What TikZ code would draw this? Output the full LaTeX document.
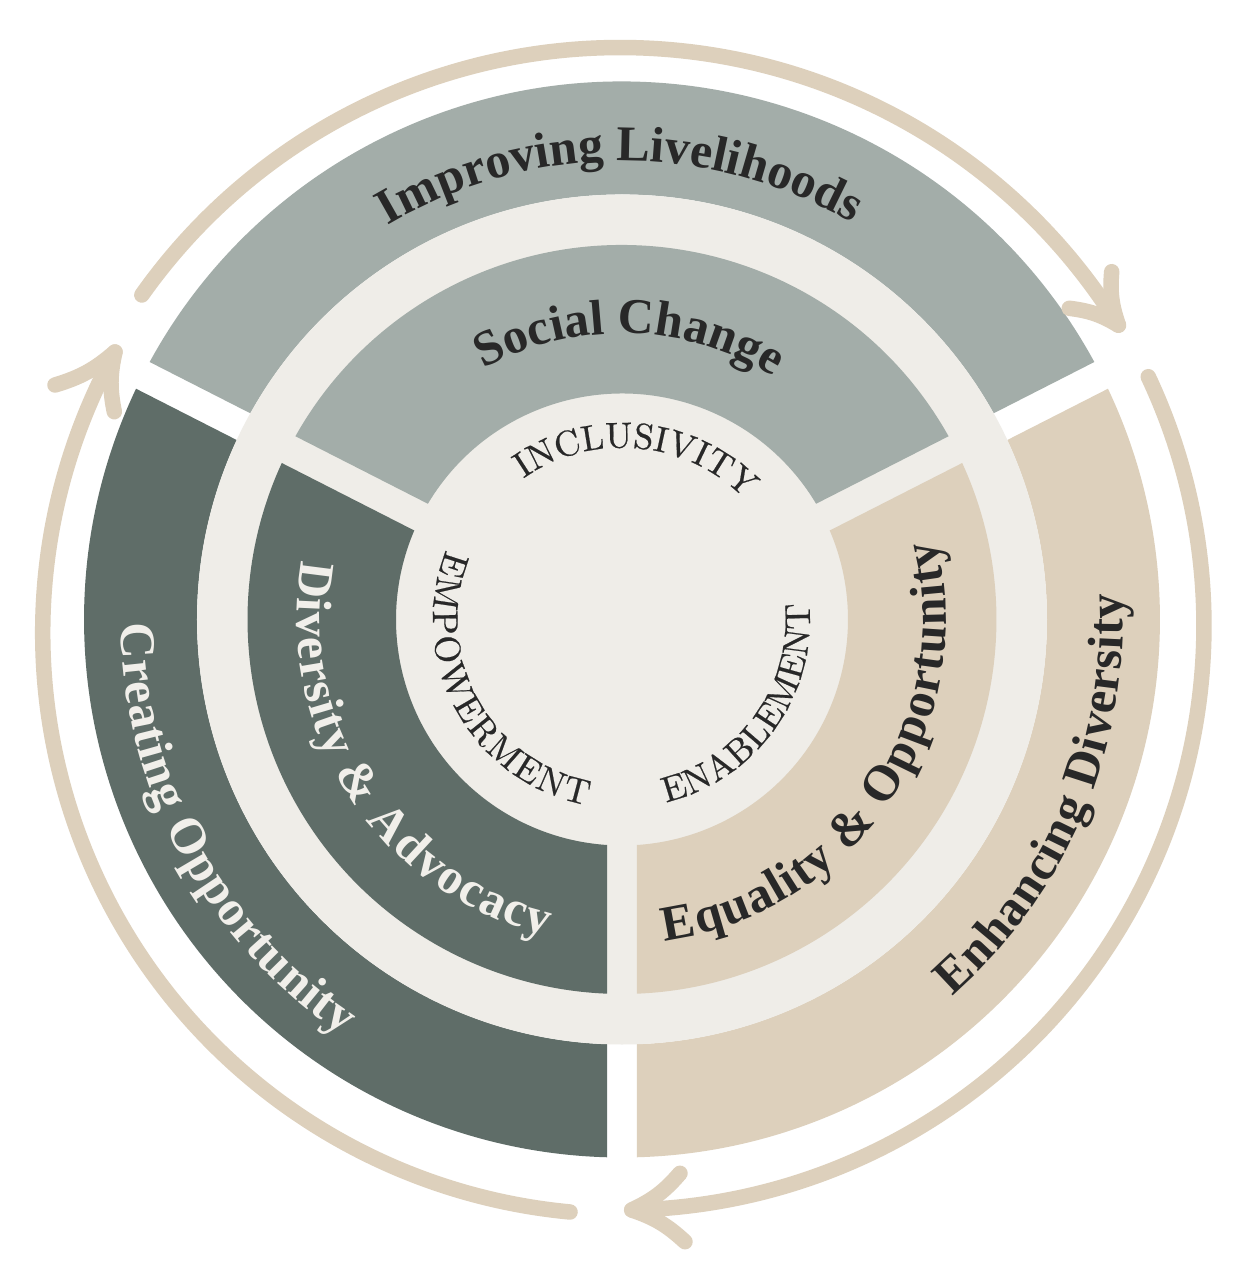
\documentclass[tikz,border=0pt]{standalone}
\usepackage{fontspec}
\newfontfamily\headfam{Liberation Serif}
\newfontfamily\corefam{lmroman10-regular}[Extension=.otf, FakeBold=0.5]
\usetikzlibrary{decorations.text,calc}
\definecolor{sagegray}{HTML}{A3ADA9}
\definecolor{slate}{HTML}{5F6D68}
\definecolor{sand}{HTML}{DDD0BC}
\definecolor{paper}{HTML}{EFEDE8}
\definecolor{ink}{HTML}{282828}
\definecolor{lighttext}{HTML}{F1EFEA}
\newcommand{\headfont}{\headfam\bfseries\fontsize{50}{60}\selectfont}
\newcommand{\corefont}{\corefam\fontsize{36}{40}\selectfont}
% annular sector with a 30pt wide straight gap on both sides
\newcommand{\ringsector}[5]{%
  \pgfmathsetmacro\sdo{asin(15/#4)}%
  \pgfmathsetmacro\sdi{asin(15/#5)}%
  \fill[#1] ({#2+\sdo}:#4) arc[start angle={#2+\sdo}, end angle={#3-\sdo}, radius=#4]
    -- ({#3-\sdi}:#5) arc[start angle={#3-\sdi}, end angle={#2+\sdi}, radius=#5] -- cycle;}
\tikzset{
  topband/.style={fill=sagegray},
  leftband/.style={fill=slate},
  rightband/.style={fill=sand},
  curvelabel/.style={decorate, decoration={text along path, text align=center, text color=#1}},
  corelabel/.style={decorate, decoration={text along path, text align=fit to path, text color=ink}},
  cyclearrow/.style={draw=sand, line width=15.5pt, line cap=round, line join=round},
}
\begin{document}
\begin{tikzpicture}[x=1pt,y=1pt]
\useasboundingbox (-622,-668.5) rectangle (622,619.5);
\fill[white] (-622,-668.5) rectangle (622,619.5);

% outer ring
\ringsector{topband}{27}{153}{538}{425}
\ringsector{leftband}{153}{270}{538}{425}
\ringsector{rightband}{270}{387}{538}{425}
% light disc
\fill[paper] (0,0) circle[radius=425];
% inner ring
\ringsector{topband}{27}{153}{374.5}{226}
\ringsector{leftband}{153}{270}{374.5}{226}
\ringsector{rightband}{270}{387}{374.5}{226}

% outer labels
\path[curvelabel=ink, decoration={text={|\headfont|Improving Livelihoods}}]
  (140.25:458.5) arc[start angle=140.25, end angle=40.25, radius=458.5];
\path[curvelabel=lighttext, decoration={raise=-17pt, text={|\headfont|Creating Opportunity}}]
  (168.3:484) arc[start angle=168.3, end angle=248.3, radius=484];
\path[curvelabel=ink, decoration={raise=-17pt, text={|\headfont|Enhancing Diversity}}]
  (297.1:484) arc[start angle=297.1, end angle=377.1, radius=484];

% inner labels
\path[curvelabel=ink, decoration={text={|\headfont|Social Change}}]
  (148.5:286) arc[start angle=148.5, end angle=28.5, radius=286];
\path[curvelabel=lighttext, decoration={raise=-17pt, text={|\headfont|Diversity {\&} Advocacy}}]
  (153:308) arc[start angle=153, end angle=273, radius=308];
\path[curvelabel=ink, decoration={raise=-17pt, text={|\headfont|Equality {\&} Opportunity}}]
  (265.9:307) arc[start angle=265.9, end angle=385.9, radius=307];

% core labels
\path[corelabel, decoration={text={|\corefont|INCLUSIVITY}}]
  (125:172) arc[start angle=125, end angle=45.7, radius=172];
\path[corelabel, decoration={text={|\corefont|EMPOWERMENT}}]
  (158.4:189) arc[start angle=158.4, end angle=259.2, radius=189];
\path[corelabel, decoration={text={|\corefont|ENABLEMENT}}]
  (283.5:188) arc[start angle=283.5, end angle=364.9, radius=188];

% cycle arrows
\coordinate (tatail) at ($(-1.85,-14)+(144.71:586)$);
\coordinate (tab1) at (489.7,347.8);
\coordinate (tab2) at (447.3,311.2);
\draw[cyclearrow] (tatail) arc[start angle=144.71, end angle=31.74, radius=586] coordinate (tatip);
\draw[cyclearrow] (tab1) to[bend right=12] (tatip) to[bend right=12] (tab2);

\coordinate (ratail) at ($(-2.41,-6.21)+(25.22:584.4)$);
\coordinate (rab1) at (58,-553.8);
\coordinate (rab2) at (63,-622.2);
\draw[cyclearrow] (ratail) arc[start angle=25.22, end angle=-88.81, radius=584.4] coordinate (ratip);
\draw[cyclearrow] (rab1) to[bend left=12] (ratip) to[bend left=12] (rab2);

\coordinate (latail) at ($(2.38,-13.36)+(264.64:581.7)$);
\coordinate (lab1) at (-567,234.5);
\coordinate (lab2) at (-507.7,207.8);
\draw[cyclearrow] (latail) arc[start angle=264.64, end angle=151.13, radius=581.7] coordinate (latip);
\draw[cyclearrow] (lab1) to[bend right=12] (latip) to[bend right=12] (lab2);
\end{tikzpicture}
\end{document}
